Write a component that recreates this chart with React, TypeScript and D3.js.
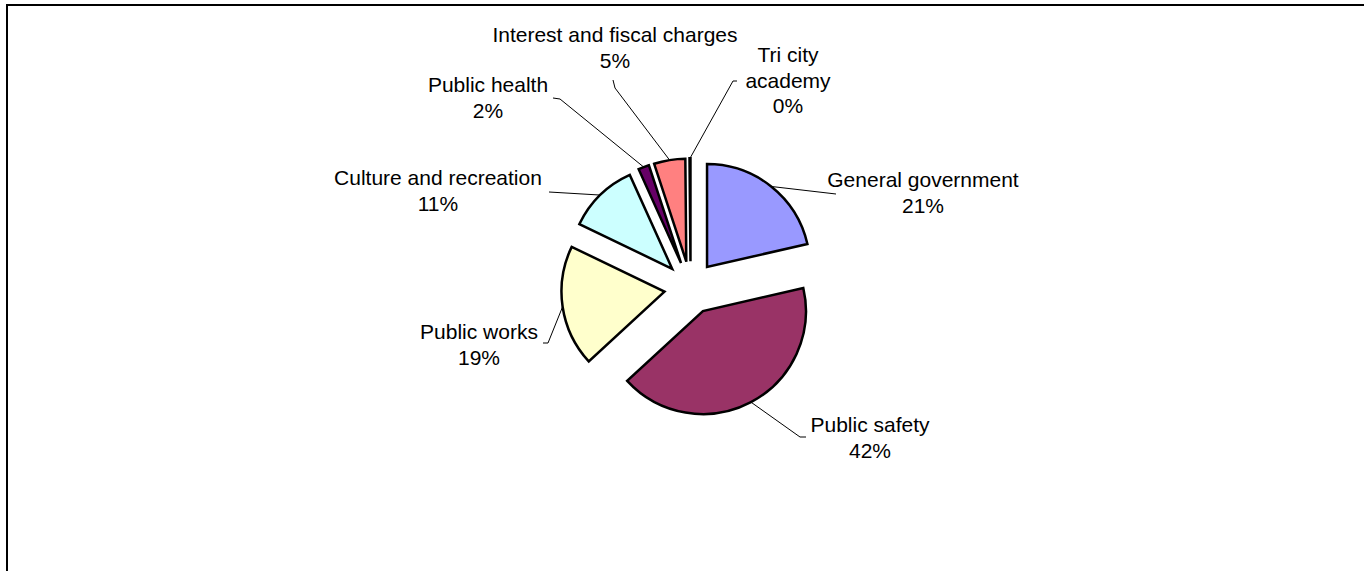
import React from "react";
import * as d3 from "d3";

const categories = [
  "General government",
  "Public safety",
  "Public works",
  "Culture and recreation",
  "Public health",
  "Interest and fiscal charges",
  "Tri city academy",
];
const values = [21.4, 41.75, 19.0, 11.1, 1.7, 4.9, 0.15];
const colors = ["#9999FF", "#993366", "#FFFFCC", "#CCFFFF", "#660066", "#FF8080", "#0066CC"];
const labelLines = [
  ["General government"],
  ["Public safety"],
  ["Public works"],
  ["Culture and recreation"],
  ["Public health"],
  ["Interest and fiscal charges"],
  ["Tri city", "academy"],
];

// layout: label center x, first baseline y, leader points after the arc point
const labelLayout = [
  { x: 923, y: 187, leader: [[836, 194]] },
  { x: 870, y: 432, leader: [[800, 437], [806, 437]] },
  { x: 479, y: 339, leader: [[548, 343], [543, 343]] },
  { x: 438, y: 185, leader: [[549, 192]] },
  { x: 488, y: 92, leader: [[560, 99], [553, 98]] },
  { x: 615, y: 42, leader: [[615, 88], [613, 80]] },
  { x: 788, y: 62, leader: [[733, 81], [737, 81]] },
];

const W = 1364;
const H = 571;
const cx = 690.6;
const cy = 287.7;
const R = 103;
const EXPLODE = 26.4;
const LINE_H = 25.5;

export default function App() {
  const total = d3.sum(values);
  const pie = d3.pie<number>().sort(null).value((d) => d)(values);
  const arc = d3.arc<d3.PieArcDatum<number>>().innerRadius(0).outerRadius(R);

  return (
    <svg
      width={W}
      height={H}
      style={{ position: "fixed", left: 0, top: 0, background: "#fff" }}
      fontFamily="'Liberation Sans', Arial, sans-serif"
    >
      <rect x={0} y={0} width={W} height={H} fill="#fff" />
      <rect x={7} y={5} width={W + 20} height={H + 20} fill="none" stroke="#000" strokeWidth={2} />
      {pie.map((p, i) => {
        const mid = (p.startAngle + p.endAngle) / 2;
        const ox = Math.sin(mid) * EXPLODE;
        const oy = -Math.cos(mid) * EXPLODE;
        const ex = cx + ox + Math.sin(mid) * R;
        const ey = cy + oy - Math.cos(mid) * R;
        const lay = labelLayout[i];
        const pts = [[ex, ey], ...lay.leader];
        const lines = [...labelLines[i], `${Math.round((values[i] / total) * 100)}%`];
        return (
          <g key={categories[i]}>
            <path
              d={arc(p) || ""}
              transform={`translate(${cx + ox},${cy + oy})`}
              fill={colors[i]}
              stroke="#000"
              strokeWidth={2.5}
              strokeLinejoin="miter"
            />
            <polyline
              points={pts.map((q) => q.join(",")).join(" ")}
              fill="none"
              stroke="#000"
              strokeWidth={1}
            />
            <text textAnchor="middle" fontSize={21} fill="#000">
              {lines.map((t, j) => (
                <tspan key={j} x={lay.x} y={lay.y + j * LINE_H}>
                  {t}
                </tspan>
              ))}
            </text>
          </g>
        );
      })}
    </svg>
  );
}
